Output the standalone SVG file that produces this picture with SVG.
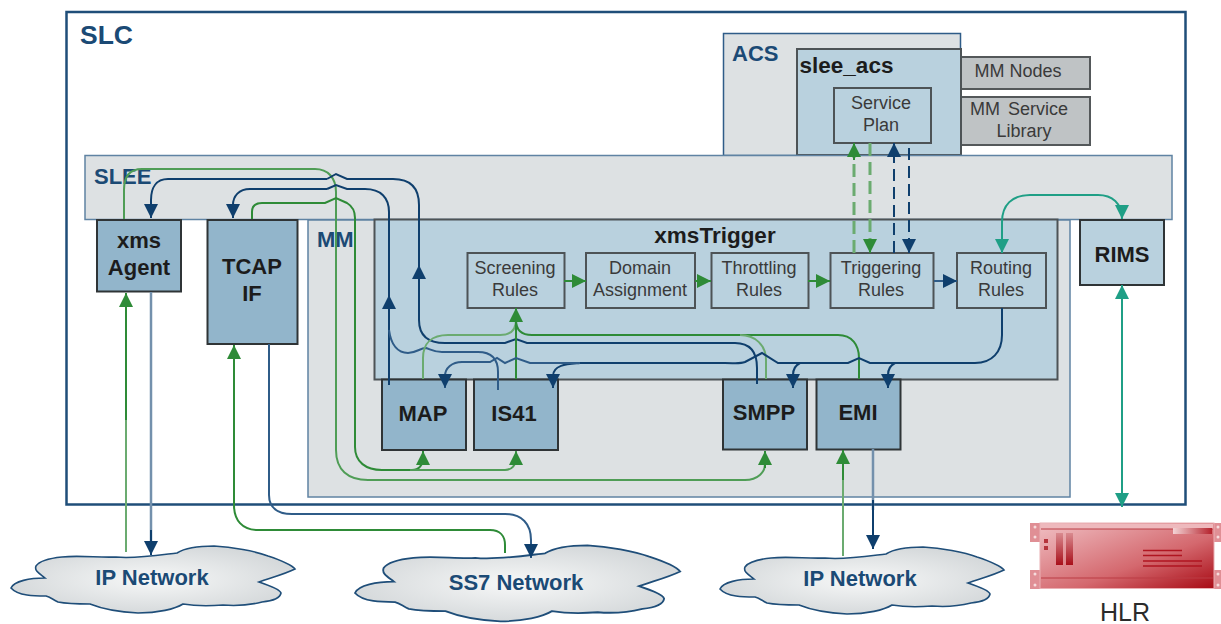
<svg xmlns="http://www.w3.org/2000/svg" width="1221" height="624" viewBox="0 0 1221 624">
<style>
text{font-family:"Liberation Sans",Arial,sans-serif;text-anchor:middle}
.t{font-weight:bold;fill:#1b4a75;font-size:22px;text-anchor:start}
.b{font-weight:bold;fill:#1c1c1c;font-size:22px}
.r{fill:#3a3a3a;font-size:18px}
.n{font-weight:bold;fill:#1b4a75;font-size:22px}
.box{fill:#92b5cb;stroke:#2f3436;stroke-width:2}
.rule{fill:#b9d1de;stroke:#4d5356;stroke-width:2}
.grey{fill:#bfc3c5;stroke:#54585a;stroke-width:2}
.c{fill:none;stroke-width:2}
.g{stroke:#2e8b37}
.gl{stroke:#6bab70}
.v{stroke:#0f3f6d}
.vl{stroke:#7390ac;stroke-width:2.500}
.vm{stroke:#2f5c88}
.te{stroke:#1f9f86}
.cl{fill:url(#cloud);stroke:#1f4e79;stroke-width:1.6}
.ag{marker-end:url(#ag)}
.av{marker-end:url(#av)}
.at{marker-end:url(#at);marker-start:url(#at)}
</style>
<defs>
<marker id="ag" markerUnits="userSpaceOnUse" markerWidth="15" markerHeight="15" refX="14" refY="7.500" orient="auto"><path d="M0 0.500L14 7.500L0 14.500z" fill="#2e8b37"/></marker>
<marker id="av" markerUnits="userSpaceOnUse" markerWidth="15" markerHeight="15" refX="14" refY="7.500" orient="auto"><path d="M0 0.500L14 7.500L0 14.500z" fill="#0f3f6d"/></marker>
<marker id="at" markerUnits="userSpaceOnUse" markerWidth="15" markerHeight="15" refX="14" refY="7.500" orient="auto-start-reverse"><path d="M0 0.500L14 7.500L0 14.500z" fill="#1f9f86"/></marker>
<radialGradient id="cloud" cx="50%" cy="50%" r="55%"><stop offset="0" stop-color="#f7f8f8"/><stop offset="1" stop-color="#d3d7d9"/></radialGradient>
<linearGradient id="red" x1="0" y1="0" x2="1" y2="1"><stop offset="0" stop-color="#f0c0c4"/><stop offset="0.6" stop-color="#d4686e"/><stop offset="1" stop-color="#a80a14"/></linearGradient>
<linearGradient id="slot" x1="0" y1="0" x2="0" y2="1"><stop offset="0" stop-color="#d98a8f"/><stop offset="1" stop-color="#a90f1a"/></linearGradient>
<linearGradient id="shine" x1="0" y1="0" x2="1" y2="0"><stop offset="0" stop-color="#f3d3d5"/><stop offset="1" stop-color="#b5222c"/></linearGradient>
<path id="cloudShape" d="M11 588C14 581 30 578 45 578C40 574 34 571 36 566C40 560 52 558 62 557C80 555 100 558 116 557C135 559 160 555 177 553C185 548 200 546 214 546C232 547 255 551 268 556C280 560 291 564 295 569C285 574 270 578 259 582C268 585 280 589 281 593C280 599 272 601 262 602C250 605 235 606 223 605C210 606 195 606 183 604C175 609 158 613 138 613C118 612 100 608 90 604C80 604 68 604 58 602C52 599 50 597 46 596C35 596 18 596 11 588z"/>
</defs>

<g id="slc"><rect x="66.500" y="12" width="1119" height="492.500" fill="#fff" stroke="#1f4e79" stroke-width="2.500"/><text class="t" x="80" y="44" style="font-size:26.500px">SLC</text></g>
<g id="acs"><rect x="723.500" y="33.500" width="237" height="122" fill="#dde1e3" stroke="#2f5c88" stroke-width="1.500"/><text class="t" x="732" y="61">ACS</text></g>
<g id="mm-nodes"><rect class="grey" x="961" y="57" width="129" height="32"/><text class="r" x="1018" y="77">MM Nodes</text></g>
<g id="mm-service-library"><rect class="grey" x="961" y="97" width="129" height="48"/><text class="r" x="1019" y="115" word-spacing="3">MM Service</text><text class="r" x="1024" y="137">Library</text></g>
<g id="slee-acs"><rect class="rule" x="797" y="49" width="164" height="106"/><text class="b" x="846.500" y="73" style="font-size:22.500px">slee_acs</text></g>
<g id="service-plan"><rect class="rule" x="834" y="88" width="97" height="55"/><text class="r" x="881" y="109">Service</text><text class="r" x="881" y="131">Plan</text></g>
<g id="slee"><rect x="85" y="155.500" width="1087" height="64" fill="#dde1e3" stroke="#5f83a3" stroke-width="1.500"/><text class="t" x="94" y="184">SLEE</text></g>
<g id="mm"><rect x="308" y="220" width="762" height="277" fill="#dde1e3" stroke="#5f83a3" stroke-width="1.500"/><text class="t" x="317" y="247">MM</text></g>
<g id="xmstrigger"><rect x="374.500" y="219.500" width="683" height="160" fill="#b9d1de" stroke="#4d5356" stroke-width="2"/><text class="b" x="715" y="243" style="font-size:22.500px">xmsTrigger</text></g>
<g id="xms-agent"><rect class="box" x="97" y="220" width="84" height="71.500"/><text class="b" x="139" y="248">xms</text><text class="b" x="139" y="275">Agent</text></g>
<g id="tcap-if"><rect class="box" x="207.500" y="220" width="90" height="124"/><text class="b" x="252" y="274">TCAP</text><text class="b" x="252" y="301">IF</text></g>
<g id="rims"><rect class="box" x="1080" y="220" width="84" height="65" style="fill:#b9d1de"/><text class="b" x="1122" y="262">RIMS</text></g>
<g id="screening-rules"><rect class="rule" x="467.500" y="253" width="97" height="55"/><text class="r" x="515" y="274">Screening</text><text class="r" x="515" y="296">Rules</text></g>
<g id="domain-assignment"><rect class="rule" x="586" y="253" width="109" height="55"/><text class="r" x="640" y="274">Domain</text><text class="r" x="640" y="296">Assignment</text></g>
<g id="throttling-rules"><rect class="rule" x="711.500" y="253" width="97" height="55"/><text class="r" x="759" y="274">Throttling</text><text class="r" x="759" y="296">Rules</text></g>
<g id="triggering-rules"><rect class="rule" x="830.500" y="253" width="103" height="55"/><text class="r" x="881" y="274">Triggering</text><text class="r" x="881" y="296">Rules</text></g>
<g id="routing-rules"><rect class="rule" x="957" y="253" width="89" height="55"/><text class="r" x="1001" y="274">Routing</text><text class="r" x="1001" y="296">Rules</text></g>
<g id="map"><rect class="box" x="382" y="379.500" width="84" height="70.500"/><text class="b" x="423" y="421">MAP</text></g>
<g id="is41"><rect class="box" x="474" y="379.500" width="84" height="70.500"/><text class="b" x="514" y="421">IS41</text></g>
<g id="smpp"><rect class="box" x="723" y="379.500" width="84" height="70"/><text class="b" x="764" y="420">SMPP</text></g>
<g id="emi"><rect class="box" x="816.500" y="379.500" width="84" height="70"/><text class="b" x="858" y="420">EMI</text></g>

<g id="ip-network-left"><use href="#cloudShape" class="cl"/><text class="n" x="152" y="585">IP Network</text></g>
<g id="ss7-network"><use href="#cloudShape" class="cl" transform="translate(342.400 -73.800) scale(1.145 1.134)"/><text class="n" x="516" y="590">SS7 Network</text></g>
<g id="ip-network-right"><use href="#cloudShape" class="cl" transform="translate(709 1)"/><text class="n" x="860" y="586">IP Network</text></g>

<g id="hlr">
<path d="M1030 523H1042V542H1030zM1030 570H1042V589H1030zM1212 523H1221V542H1212zM1212 570H1221V589H1212z" fill="#e08f95"/>
<g fill="#f6dcdd"><circle cx="1035" cy="527" r="1.500"/><circle cx="1035" cy="537" r="1.500"/><circle cx="1035" cy="574" r="1.500"/><circle cx="1035" cy="585" r="1.500"/><circle cx="1218" cy="527" r="1.500"/><circle cx="1218" cy="537" r="1.500"/><circle cx="1218" cy="574" r="1.500"/><circle cx="1218" cy="585" r="1.500"/></g>
<rect x="1040" y="523" width="174" height="65.500" fill="url(#red)" stroke="#eab0b4" stroke-width="1"/>
<rect x="1041" y="524" width="172" height="5" fill="#eeb9bd"/>
<path d="M1041 529H1213M1041 578H1213" stroke="#bb3d45" stroke-width="1" fill="none"/>
<rect x="1173" y="528" width="39" height="6" fill="url(#shine)"/>
<path d="M1056 533H1063V565H1056zM1066 533H1073V565H1066z" fill="url(#slot)"/>
<path d="M1044 539H1048V543H1044zM1044 546H1048V550H1044z" fill="#b5343c"/>
<path d="M1143 550.500H1182M1143 555.500H1182M1143 561H1202M1143 566H1202" stroke="#b01520" stroke-width="1.500" fill="none"/>
<text x="1125" y="621" style="font-size:25px" fill="#2b2b2b">HLR</text>
</g>

<g id="connectors">
<!-- external links -->
<path class="c gl" d="M126 552V400"/>
<path class="c g ag" d="M126 420V293"/>
<path class="c vl" d="M151 292V545"/>
<path class="c v av" d="M151 530V555"/>
<path class="c g ag" d="M505 553V545C505 536 500 530 490 530H258C242 530 234 520 234 505V345"/>
<path class="c vm av" d="M269 344V495C269 508 278 514 292 514H505C522 514 531 524 531 540V558"/>
<path class="c gl" d="M843 556V470"/>
<path class="c g ag" d="M843 480V450"/>
<path class="c vl" d="M873 449V510"/>
<path class="c v av" d="M873 500V549"/>
<path class="c te at" d="M1122 285V507"/>
<path class="c te at" d="M1002 253V222C1002 205 1012 195 1030 195H1098C1112 195 1122 203 1122 219"/>
<!-- xms agent and TCAP through SLEE -->
<path class="c" d="M124 219V190C124 176 130 169 142 169H315C328 169 336 178 336 192V450C336 470 348 480 368 480H745C758 480 765 472 765 464V451" style="stroke:#4f9d56"/>
<path class="c g ag" d="M765 468V451"/>
<path class="c v" d="M327 179L336 174L347 179H393C410 179 419 188 419 205V320C419 335 428 343 445 343H505L516 339L527 343H735C750 343 757 352 757 368V384"/>
<path class="c v av" d="M327 179H168C156 179 151 188 151 200V218"/>
<path class="c v av" d="M419 300V265"/>
<path class="c v" d="M327 189L336 185L347 189H365C381 189 389 198 389 212V385"/>
<path class="c v av" d="M327 189H250C239 189 233 196 233 205V218"/>
<path class="c v av" d="M389 320V295"/>
<path class="c vm" d="M389 330C391 345 398 353 408 353C416 353 420 348 426 348C430 349 434 352 442 352H478C492 352 498 360 498 372V390"/>
<path class="c g" d="M252 219V212C252 206 256 203 262 203H325L336 198L347 203C352 206 355 210 355 218V447C355 462 366 470 382 470H410"/>
<path class="c g ag" d="M388 470H412C419 470 423 465 423 458V451"/>
<path class="c ag" d="M410 470H505C512 470 516 465 516 458V451" style="stroke:#4f9d56"/>
<!-- into Screening Rules -->
<path class="c gl" d="M423 379V358C423 343 432 335 448 335H500C510 335 516 330 516 320"/>
<path class="c g ag" d="M516 379V308"/>
<path class="c g" d="M516 320C516 330 522 335 532 335H838C852 335 859 345 859 358V379"/>
<path class="c gl" d="M740 335C755 335 766 345 766 360V379"/>
<!-- routing rules down -->
<path class="c v" d="M1002 308V335C1002 352 992 363 975 363H870L859 358L848 363H778L762 353L745 362C740 364 735 363 725 363H580"/>
<path class="c v av" d="M800 363C796 365 793 369 793 375V388"/>
<path class="c v av" d="M895 363C891 365 888 369 888 375V388"/>
<path class="c v av" d="M580 363C570 364 553 364 553 376V388"/>
<path class="c vm av" d="M580 363H530L516 358L505 363L497 358L490 362H462C452 362 445 368 445 376V388"/>
<!-- rule chain -->
<path class="c g ag" d="M564 281H586"/>
<path class="c g ag" d="M695 281H711"/>
<path class="c g ag" d="M808 281H830"/>
<path class="c vm av" d="M934 281H957"/>
<!-- service plan links -->
<path class="c gl" stroke-dasharray="13 6" style="stroke-width:3" d="M854 253V152"/>
<path class="c g ag" d="M854 160V143"/>
<path class="c gl" stroke-dasharray="13 6" style="stroke-width:3" d="M870 143V240"/>
<path class="c g ag" d="M870 240V253"/>
<path class="c v" stroke-dasharray="12 6" d="M894 253V152"/>
<path class="c v av" d="M894 160V143"/>
<path class="c v" stroke-dasharray="12 6" d="M909 148V240"/>
<path class="c v av" d="M909 240V253"/>
</g>
</svg>
